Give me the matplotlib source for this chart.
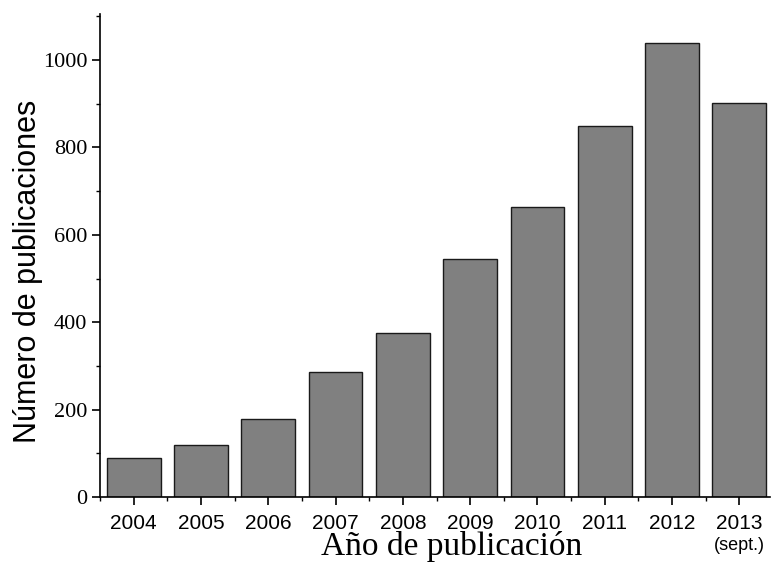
import matplotlib.pyplot as plt
from matplotlib.ticker import MultipleLocator

years = ["2004", "2005", "2006", "2007", "2008", "2009", "2010", "2011", "2012", "2013"]
counts = [90, 118, 178, 285, 375, 545, 663, 848, 1040, 902]
note_2013 = "(sept.)"

fig = plt.figure(figsize=(7.72, 5.67), dpi=100)
ax = fig.add_axes([0.1295, 0.1235, 0.8675, 0.8515])

x = range(len(years))
ax.bar(x, counts, width=0.8, color='#808080', edgecolor='#1a1a1a', linewidth=1.0)

ax.set_xlim(-0.5, len(years) - 0.55)
ax.set_ylim(0, 1105)

ax.spines['top'].set_visible(False)
ax.spines['right'].set_visible(False)
ax.spines['left'].set_linewidth(1.2)
ax.spines['bottom'].set_linewidth(1.2)

ax.set_xticks(list(x))
ax.set_xticklabels(years, fontsize=15, family='Liberation Sans')
ax.xaxis.set_minor_locator(MultipleLocator(1, offset=0.5))
ax.yaxis.set_major_locator(MultipleLocator(200))
ax.yaxis.set_minor_locator(MultipleLocator(100))
for lbl in ax.get_yticklabels():
    lbl.set_family('Liberation Serif')
    lbl.set_fontsize(16)

ax.tick_params(axis='both', which='major', direction='out', length=6, width=1.2, pad=3)
ax.tick_params(axis='both', which='minor', direction='out', length=3, width=1.0)
ax.tick_params(axis='x', which='major', pad=6)

ax.set_ylabel("Número de publicaciones", fontsize=22, family='Liberation Sans')
ax.yaxis.set_label_coords(-0.085, 0.468)
ax.set_xlabel("Año de publicación", fontsize=24, family='Liberation Serif')
ax.xaxis.set_label_coords(0.525, -0.07)

ax.text(9, -0.1, note_2013, transform=ax.get_xaxis_transform(), ha='center', va='center',
        fontsize=13, family='Liberation Sans')

fig.savefig("out.png", dpi=100)
